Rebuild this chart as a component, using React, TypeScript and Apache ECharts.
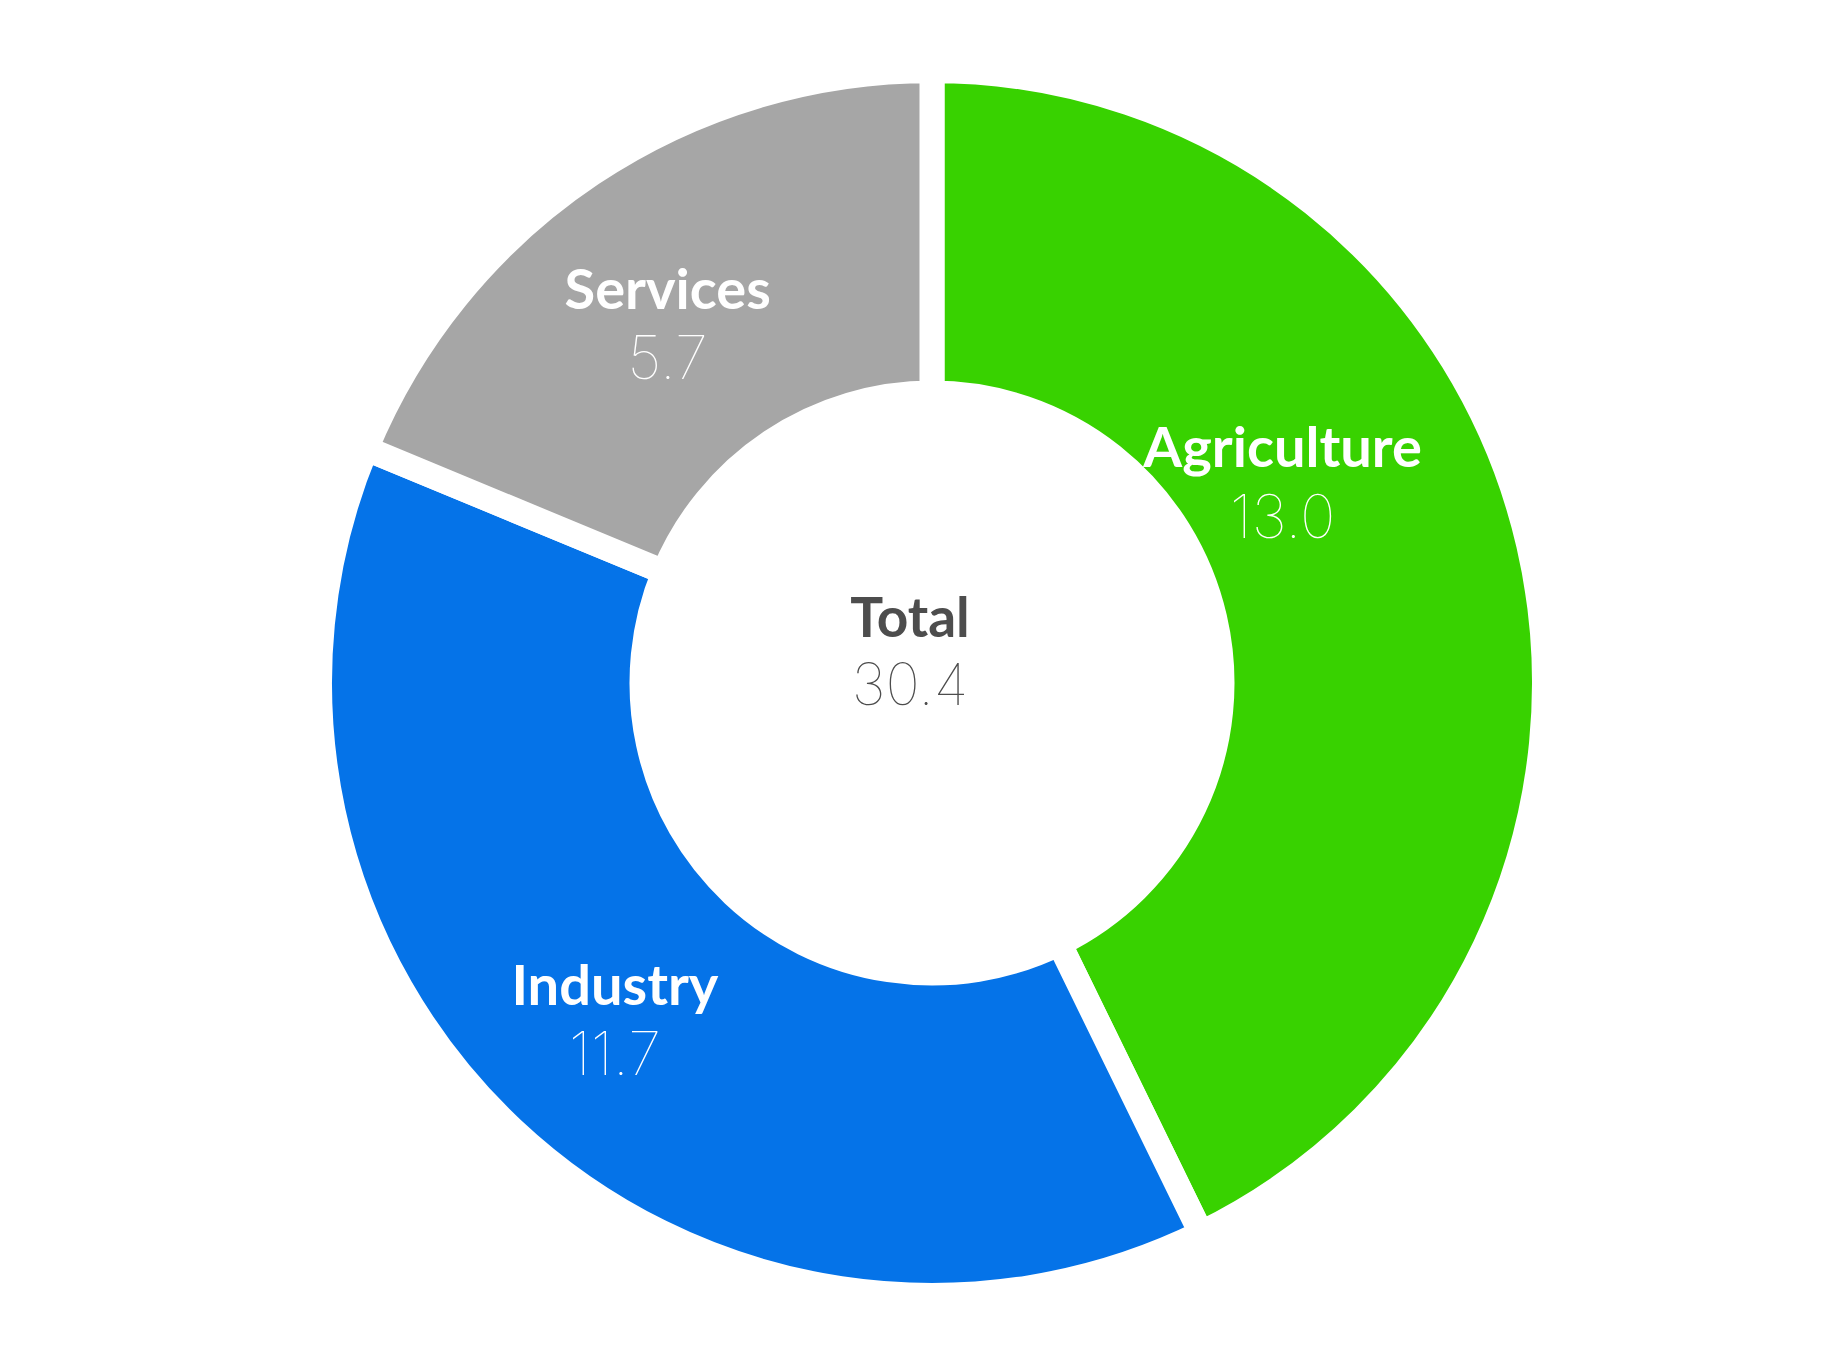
import React, { useEffect, useRef } from "react";
import * as echarts from "echarts";

const categories = ["Agriculture", "Industry", "Services"];
const values = [13.0, 11.7, 5.7];
const colors = ["#38D200", "#0573E8", "#A6A6A6"];
const totalLabel = "Total";
const labelNudges = [
  [-92, -100],
  [-6, 4],
  [-12, 17],
];

export default function App() {
  const ref = useRef<HTMLDivElement>(null);
  useEffect(() => {
    if (!ref.current) return;
    const chart = echarts.init(ref.current, null, { renderer: "svg" });
    const total = values.reduce((a, b) => a + b, 0);
    const data = categories.map((name, i) => ({
      name,
      value: values[i],
      itemStyle: { color: colors[i] },
    }));
    chart.setOption({
      animation: false,
      backgroundColor: "#ffffff",
      graphic: [
        {
          type: "text",
          left: 910 - 90,
          top: 588,
          style: {
            text: "{a|" + totalLabel + "}\n{b|" + total.toFixed(1) + "}",
            align: "center",
            width: 180,
            fill: "#4D4D4D",
            rich: {
              a: {
                fontFamily: "Lato",
                fontWeight: "bold",
                fontSize: 55,
                lineHeight: 68,
                fill: "#4D4D4D",
                align: "center",
                width: 180,
              },
              b: {
                fontFamily: "Inter",
                fontWeight: 100,
                fontSize: 58,
                lineHeight: 68,
                fill: "#4D4D4D",
                align: "center",
                width: 180,
              },
            },
          },
        },
      ],
      series: [
        {
          type: "pie",
          center: [932, 683],
          radius: [290, 612.5],
          startAngle: 90,
          clockwise: true,
          data,
          itemStyle: { borderColor: "#ffffff", borderWidth: 25 },
          emphasis: { disabled: true },
          label: {
            show: true,
            position: "inside",
            formatter: (p: any) => "{n|" + p.name + "}\n{v|" + Number(p.value).toFixed(1) + "}",
            rich: {
              n: {
                fontFamily: "Lato",
                fontWeight: "bold",
                fontSize: 56,
                lineHeight: 70,
                color: "#ffffff",
                align: "center",
              },
              v: {
                fontFamily: "Inter",
                fontWeight: 100,
                fontSize: 60,
                lineHeight: 70,
                color: "#ffffff",
                align: "center",
              },
            },
          },
          labelLine: { show: false },
          labelLayout: (p: any) => {
            const n = labelNudges[p.dataIndex] || [0, 0];
            return { dx: n[0], dy: n[1] };
          },
        },
      ],
    });
    return () => chart.dispose();
  }, []);
  return (
    <div
      ref={ref}
      style={{ position: "fixed", left: 0, top: 0, width: 1829, height: 1370 }}
    />
  );
}
